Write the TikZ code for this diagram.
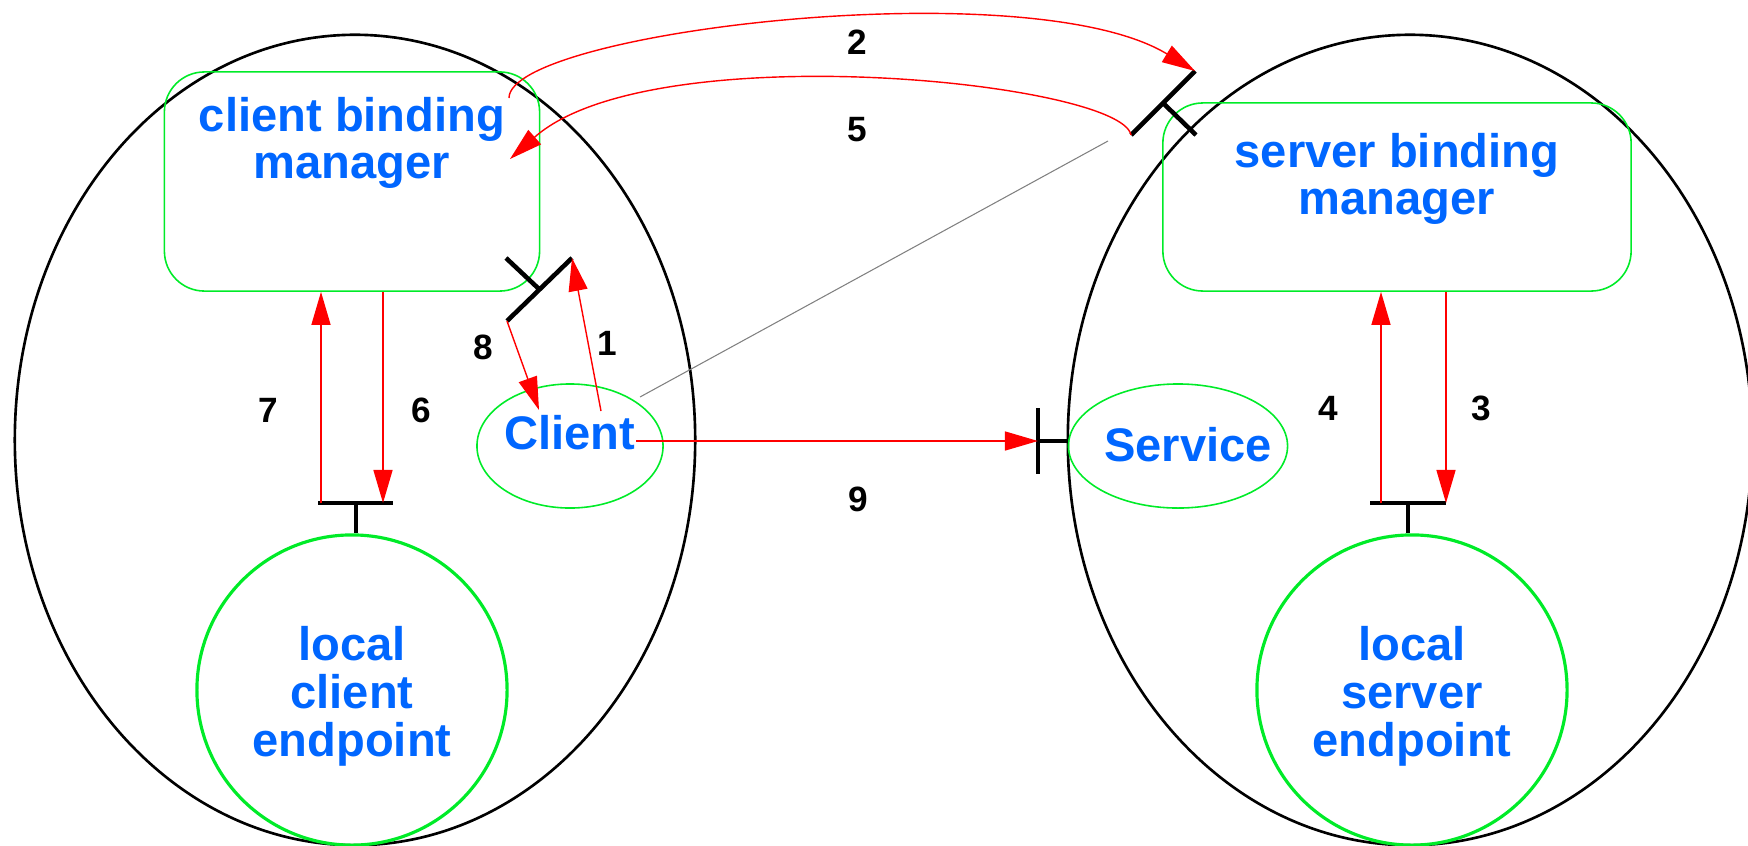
\documentclass[tikz,border=0pt]{standalone}
\usepackage{fontspec}
\setmainfont{Liberation Sans}
\usetikzlibrary{arrows.meta,shapes.geometric,positioning}

\definecolor{mgrgreen}{RGB}{0,235,40}
\definecolor{txtblue}{RGB}{0,102,255}

\begin{document}
\begin{tikzpicture}[x=0.01cm,y=-0.01cm,
    >={Triangle[length=0.33cm,width=0.19cm]},
    hostoval/.style={ellipse,draw=black,line width=0.75pt,inner sep=0pt,minimum height=8.1cm},
    mgrbox/.style={draw=mgrgreen,line width=0.45pt,rounded corners=0.4cm,inner sep=0pt},
    endpt/.style={circle,draw=mgrgreen,line width=0.9pt,inner sep=0pt,minimum size=3.1cm},
    procoval/.style={ellipse,draw=mgrgreen,line width=0.45pt,inner sep=0pt,minimum height=1.24cm},
    bluetxt/.style={text=txtblue,font=\fontsize{13.4}{13.6}\selectfont\bfseries,align=center,inner sep=0pt},
    numlbl/.style={font=\fontsize{10}{12}\selectfont\bfseries,inner sep=0pt},
    msg/.style={->,draw=red,line width=0.4pt},
    plug/.style={draw=black,line width=1.3pt},
    refline/.style={draw=black!50,line width=0.3pt}]
    \useasboundingbox (0,0) rectangle (1748,845);

    % hosts
    \node[hostoval,minimum width=6.8cm]  (chost) at (355,440) {};
    \node[hostoval,minimum width=6.84cm] (shost) at (1410,440) {};

    % binding managers
    \node[mgrbox,minimum width=3.75cm,minimum height=2.19cm] (cbm) at (352,181.5) {};
    \node[bluetxt] (cbmtxt) [below=0.25cm of cbm.north] {client binding\\manager};
    \node[mgrbox,minimum width=4.68cm,minimum height=1.88cm] (sbm) at (1397,197) {};
    \node[bluetxt] (sbmtxt) [below=0.3cm of sbm.north] {server binding\\manager};

    % endpoints
    \node[endpt] (cep) at (352,690) {};
    \node[bluetxt] (ceptxt) at ([yshift=-0.06cm]cep.center) {local\\client\\endpoint};
    \node[endpt] (sep) at (1412,690) {};
    \node[bluetxt] (septxt) at ([yshift=-0.06cm]sep.center) {local\\server\\endpoint};

    % client and service
    \node[procoval,minimum width=1.86cm] (cli) at (570,446) {};
    \node[bluetxt] (clitxt) at (570,433) {Client};
    \node[procoval,minimum width=2.19cm] (svc) at (1178,446) {};
    \node[bluetxt] (svctxt) at (1188,445) {Service};

    % sockets
    \coordinate (cskA) at (507,321);
    \coordinate (cskB) at (572,258);
    \coordinate (cskM) at (539.5,289.5);
    \coordinate (cskS) at (506,258);
    \draw[plug] (cskA) -- (cskB) (cskM) -- (cskS);

    \coordinate (sskA) at (1131,135);
    \coordinate (sskB) at (1195,71);
    \coordinate (sskM) at (1163,103);
    \coordinate (sskS) at (1196,135);
    \draw[plug] (sskA) -- (sskB) (sskM) -- (sskS);

    \coordinate (cepL) at (318,503);
    \coordinate (cepR) at (393,503);
    \coordinate (cepM) at (356,503);
    \draw[plug] (cepL) -- (cepR) (cepM) -- (cepM |- cep.north);

    \coordinate (sepL) at (1370,503);
    \coordinate (sepR) at (1446,503);
    \coordinate (sepM) at (1408,503);
    \draw[plug] (sepL) -- (sepR) (sepM) -- (sepM |- sep.north);

    \coordinate (svcT) at (1038,408);
    \coordinate (svcB) at (1038,474);
    \coordinate (svcM) at (1038,441);
    \draw[plug] (svcT) -- (svcB) (svcM) -- (svcM -| svc.west);

    % messages
    \coordinate (c1) at (601,411);
    \coordinate (c8) at (539,410);
    \coordinate (c2) at (509,98);
    \coordinate (c5) at (510,159);
    \coordinate (c7) at (321,503);
    \coordinate (c6) at (383,503);
    \coordinate (c4) at (1381,503);
    \coordinate (c3) at (1446,503);

    \draw[msg] (c1) -- (cskB);
    \draw[msg] (c2) .. controls (509,32) and (1029,-30) .. (sskB);
    \draw[msg] (c3 |- sbm.south) -- (c3);
    \draw[msg] (c4) -- (c4 |- sbm.south);
    \draw[msg] (sskA) .. controls (1121,82) and (651,34) .. (c5);
    \draw[msg] (c6 |- cbm.south) -- (c6);
    \draw[msg] (c7) -- (c7 |- cbm.south);
    \draw[msg] (cskA) -- (c8);
    \draw[msg] (clitxt.east |- svcM) -- (svcM);

    \coordinate (refA) at (1108,141);
    \coordinate (refB) at (640,397);
    \draw[refline] (refA) -- (refB);

    % step numbers
    \node[numlbl] (n1) at (607,343) {1};
    \node[numlbl] (n2) at (857,42)  {2};
    \node[numlbl] (n3) at (1481,408) {3};
    \node[numlbl] (n4) at (1328,408) {4};
    \node[numlbl] (n5) at (857,130) {5};
    \node[numlbl] (n6) at (421,410) {6};
    \node[numlbl] (n7) at (268,410) {7};
    \node[numlbl] (n8) at (483,347) {8};
    \node[numlbl] (n9) at (858,499) {9};
\end{tikzpicture}
\end{document}
